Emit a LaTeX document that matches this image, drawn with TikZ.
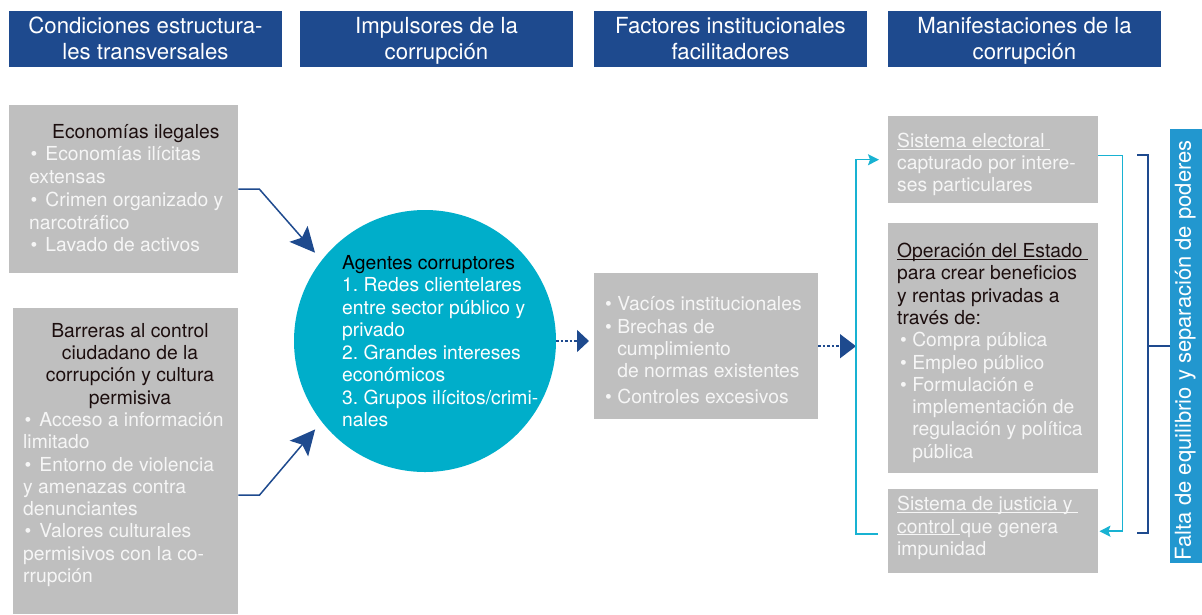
\documentclass[tikz,border=0pt]{standalone}
\usepackage{fontspec}
\setmainfont{TeX Gyre Heros}
\usetikzlibrary{arrows.meta,calc}
\definecolor{hdrblue}{RGB}{30,74,142}
\definecolor{boxgray}{RGB}{191,191,191}
\definecolor{circcyan}{RGB}{0,174,202}
\definecolor{linecyan}{RGB}{24,178,210}
\definecolor{sideblue}{RGB}{34,151,207}
\definecolor{darktxt}{RGB}{28,14,14}
\definecolor{lighttxt}{RGB}{246,246,246}
\newcommand{\uln}[1]{\underline{\smash{#1}}}
\newcommand{\hang}{\hphantom{•\ }}
\newcommand{\bul}{\hspace*{1.5pt}•\hspace{8pt}}
\frenchspacing
\begin{document}
\begin{tikzpicture}[x=1pt,y=-1pt,
  hdr/.style={fill=hdrblue, minimum width=273pt, minimum height=56pt, inner sep=0pt, anchor=north west},
  gbox/.style={fill=boxgray, inner sep=0pt, anchor=north west},
  htxt/.style={inner sep=0pt, anchor=north, align=center, text=white, font=\fontsize{22.2}{26}\selectfont},
  txt/.style={inner sep=0pt, anchor=north west, align=left, text=lighttxt},
  dkline/.style={draw=hdrblue, line width=1.5pt},
  dkarrow/.style={dkline, -{Stealth[length=25pt,width=24pt,inset=5pt]}, shorten >=10pt},
  dotarrow/.style={dkline, dash pattern=on 2.5pt off 2pt},
  cyline/.style={draw=linecyan, line width=1.5pt},
  cyarrow/.style={cyline, -{Stealth[length=11pt,width=11pt,inset=2pt]}}
]
\useasboundingbox (0,0) rectangle (1202,614);

% headers
\node[hdr] (h1) at (9,11) {};
\node[hdr] (h2) at (300,11) {};
\node[hdr] (h3) at (594,11) {};
\node[hdr] (h4) at (888,11) {};
\node[htxt] (h1t) at (145.5,15.1) {\strut Condiciones estructura-\\les transversales};
\node[htxt] (h2t) at (436.5,15.1) {\strut Impulsores de la\\corrupción};
\node[htxt] (h3t) at (730.5,15.1) {\strut Factores institucionales\\facilitadores};
\node[htxt] (h4t) at (1024.5,15.1) {\strut Manifestaciones de la\\corrupción};

% gray boxes
\node[gbox, minimum width=229pt, minimum height=168pt] (b1) at (9,105) {};
\node[gbox, minimum width=225pt, minimum height=306pt] (b2) at (13,308) {};
\node[gbox, minimum width=224pt, minimum height=146pt] (b3) at (594,273) {};
\node[gbox, minimum width=210pt, minimum height=87pt] (se) at (888,116) {};
\node[gbox, minimum width=210pt, minimum height=250pt] (op) at (888,223) {};
\node[gbox, minimum width=210pt, minimum height=84pt] (ju) at (888,489) {};
\node[fill=sideblue, inner sep=0pt, anchor=north west, minimum width=32pt, minimum height=434pt] (fr) at (1170,129) {};
\node[circle, fill=circcyan, inner sep=0pt, minimum size=262pt] (ag) at (425,341) {};

% texts
\node[txt, font=\fontsize{19.3}{22.75}\selectfont] (b1t) at (29,122.1)
 {\strut\hspace*{23pt}\textcolor{darktxt}{Economías ilegales}\\\bul Economías ilícitas\\extensas\\\bul Crimen organizado y\\narcotráfico\\\bul Lavado de activos};
\node[txt, anchor=north, align=center, text=darktxt, font=\fontsize{19.3}{22.3}\selectfont] (b2h) at (130,321.4)
 {\strut Barreras al control\\ciudadano de la\\corrupción y cultura\\permisiva};
\node[txt, font=\fontsize{19.3}{22.3}\selectfont] (b2t) at (23,410.6)
 {\strut\bul Acceso a información\\limitado\\\bul Entorno de violencia\\y amenazas contra\\denunciantes\\\bul Valores culturales\\permisivos con la co-\\rrupción};
\node[txt, text=white, font=\fontsize{19.3}{22.5}\selectfont] (agt) at (342,253.25)
 {\strut\textcolor{black}{Agentes corruptores}\\1. Redes clientelares\\entre sector público y\\privado\\2. Grandes intereses\\económicos\\3. Grupos ilícitos/crimi-\\nales};
\node[txt, font=\fontsize{19.3}{22.2}\selectfont] (b3t) at (605,295.2)
 {\strut• Vacíos institucionales\\• Brechas de\\\hang cumplimiento\\\hang de normas existentes\\[4pt]• Controles excesivos};
\node[txt, font=\fontsize{19.3}{21.6}\selectfont] (set) at (897,132.6)
 {\strut\uln{Sistema electoral\ }\\capturado por intere-\\ses particulares};
\node[txt, font=\fontsize{19.3}{22.3}\selectfont] (opt) at (897,241.7)
 {\strut\textcolor{darktxt}{\uln{Operación del Estado\ }}\\\textcolor{darktxt}{para crear beneficios}\\\textcolor{darktxt}{y rentas privadas a}\\\textcolor{darktxt}{través de:}\\\hspace*{3pt}• Compra pública\\\hspace*{3pt}• Empleo público\\\hspace*{3pt}• Formulación e\\\hspace*{3pt}\hang implementación de\\\hspace*{3pt}\hang regulación y política\\\hspace*{3pt}\hang pública};
\node[txt, font=\fontsize{19.3}{22.2}\selectfont] (jut) at (897,495.2)
 {\strut\uln{Sistema de justicia y\ }\\\uln{control\ }que genera\\impunidad};
\node[rotate=90, inner sep=0pt, text=white, font=\fontsize{22}{26}\selectfont] (frt) at ([xshift=-1pt,yshift=-4pt]fr.center) {Falta de equilibrio y separación de poderes};

% connectors
\draw[dkarrow] (b1.east) -- ++(21,0) -- (ag.142);
\draw[dkarrow] ([yshift=-34pt]b2.east) -- ++(21,0) -- (ag.218);
\draw[dotarrow, -{Triangle[length=12pt,width=22pt]}, shorten >=5pt] (ag.east) -- (ag.east -| b3.west);
\draw[dotarrow, -{Triangle[length=16pt,width=24pt]}] (b3.east) -- ([xshift=-32pt]b3.east -| se.west);
\draw[cyarrow, shorten >=9pt] ([xshift=-10pt,yshift=-3pt]ju.west) -| ([xshift=-32pt]se.west) -- (se.west);
\draw[cyarrow, shorten >=1pt] ([yshift=4pt]se.east) -| ([xshift=24pt]ju.east) -- (ju.east);
\coordinate (bt) at (1137,155);
\coordinate (bb) at (1137,533);
\draw[dkline] (bt) -- ++(11,0) |- (bb);
\draw[dkline] (fr.west) -- ++(-22,0);
\end{tikzpicture}
\end{document}
